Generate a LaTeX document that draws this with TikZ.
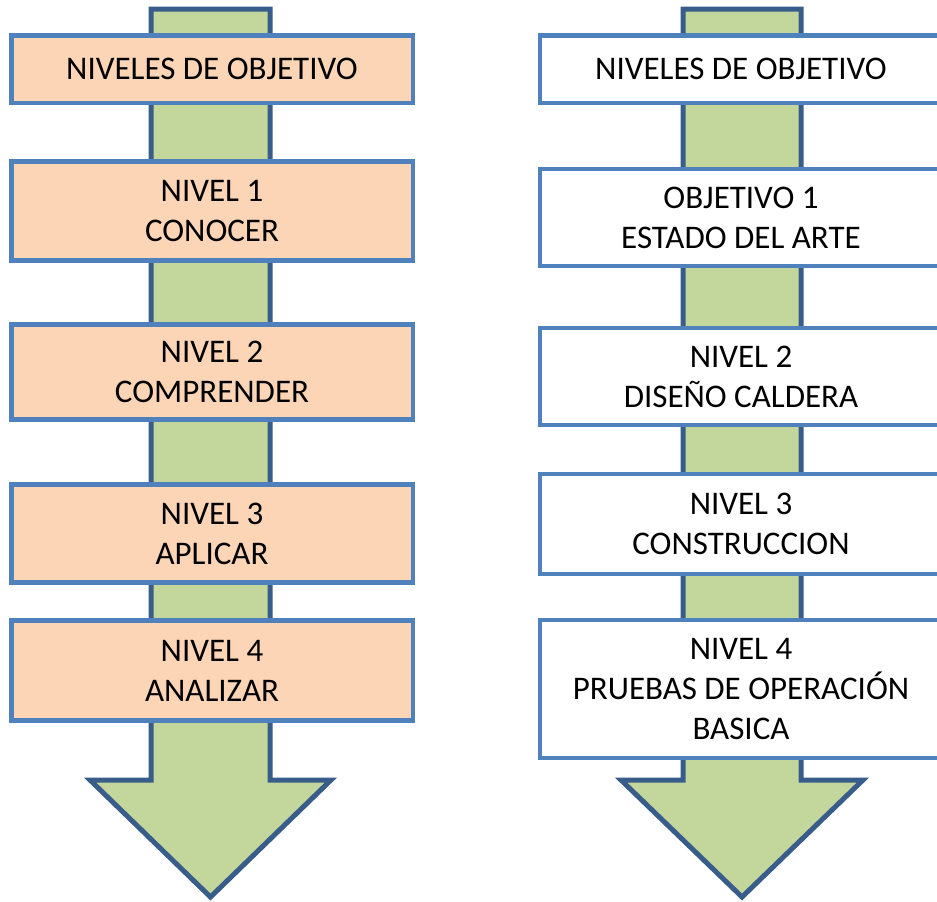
\documentclass[tikz,border=0pt]{standalone}
\usepackage{fontspec}
\setmainfont{Carlito}
\definecolor{boxline}{HTML}{4F81BD}
\definecolor{peach}{HTML}{FBD5B5}
\definecolor{shaftfill}{HTML}{C3D69B}
\definecolor{shaftline}{HTML}{385D8A}
\begin{document}
\begin{tikzpicture}[x=1pt,y=-1pt]

    \tikzset{
      levelbox/.style={
        draw=boxline,
        line width=4.5pt,
        fill=peach,
        align=center,
        inner sep=0pt,
        minimum width=401.5pt,
        font=\fontsize{33}{40}\selectfont,
      },
      goalbox/.style={
        levelbox,
        fill=white,
        minimum width=402pt,
      },
      downarrow/.style={
        draw=shaftline,
        line width=5pt,
        fill=shaftfill,
        line join=miter,
      },
    }
    \useasboundingbox (0,0) rectangle (937,902);
    \clip (0,0) rectangle (937,902);
	\draw[downarrow] (151,9)--(270,9)--(270,780)--(331,780)--(210.5,897)--(90,780)--(151,780)--cycle;
	\draw[downarrow] (683,9)--(801,9)--(801,780)--(863,780)--(742,897)--(621,780)--(683,780)--cycle;

	\node[levelbox, minimum height=67.5pt] (lhead) at (212,69) {NIVELES DE OBJETIVO};
	\node[levelbox, minimum height=99pt] (lone) at (212,211) {NIVEL 1\\CONOCER};
	\node[levelbox, minimum height=95pt] (ltwo) at (212,372) {NIVEL 2\\COMPRENDER};
	\node[levelbox, minimum height=98pt] (lthree) at (212,533.5) {NIVEL 3\\APLICAR};
	\node[levelbox, minimum height=100pt] (lfour) at (212,670.5) {NIVEL 4\\ANALIZAR};

	\node[goalbox, minimum height=67.5pt] (rhead) at (741,69) {NIVELES DE OBJETIVO};
	\node[goalbox, minimum height=97pt] (rone) at (741,217.5) {OBJETIVO 1\\ESTADO DEL ARTE};
	\node[goalbox, minimum height=97pt] (rtwo) at (741,376.5) {NIVEL 2\\DISEÑO CALDERA};
	\node[goalbox, minimum height=100pt] (rthree) at (741,524) {NIVEL 3\\CONSTRUCCION};
	\node[goalbox, minimum height=138pt] (rfour) at (741,689) {NIVEL 4\\PRUEBAS DE OPERACIÓN\\BASICA};

\end{tikzpicture}
\end{document}
